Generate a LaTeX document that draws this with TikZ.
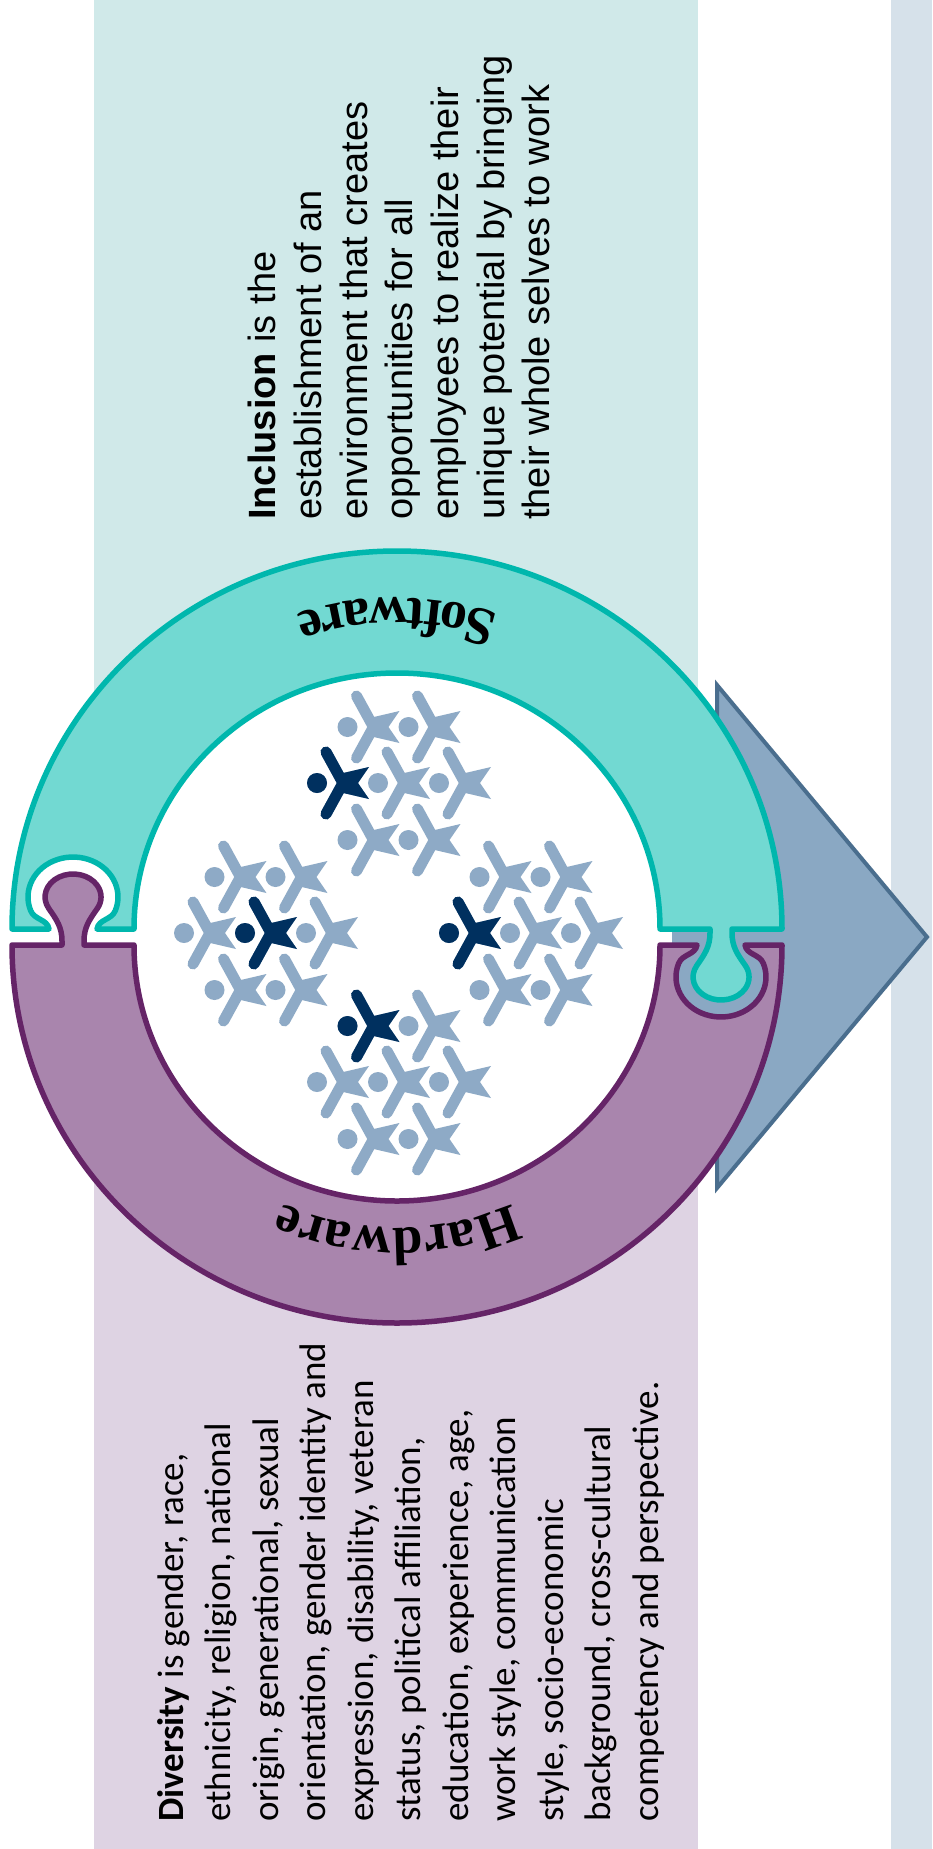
\documentclass[tikz,border=0pt]{standalone}
\usepackage{fontspec}
\setmainfont{Liberation Serif}
\newfontfamily\arialfont{Liberation Sans}
\newfontfamily\calibrifont{Carlito}
\usetikzlibrary{decorations.text}

\definecolor{inclbg}{HTML}{D0E9E9}
\definecolor{divbg}{HTML}{DED3E3}
\definecolor{stripbg}{HTML}{D6E1EA}
\definecolor{softfill}{HTML}{72D9D2}
\definecolor{softline}{HTML}{00B7AD}
\definecolor{hardfill}{HTML}{A985AD}
\definecolor{hardline}{HTML}{652467}
\definecolor{arrowfill}{HTML}{8AA8C3}
\definecolor{arrowline}{HTML}{4A6E8E}
\definecolor{figlight}{HTML}{8EAAC6}
\definecolor{figdark}{HTML}{00305F}

\newcommand\arcfont{\fontsize{54pt}{60pt}\selectfont\bfseries}

\tikzset{
	piece/.style  = {line width=5.5pt, line join=round},
	soft/.style   = {piece, fill=softfill, draw=softline},
	hard/.style   = {piece, fill=hardfill, draw=hardline},
	blurb/.style  = {rotate=90, anchor=north west, align=left, inner sep=0pt},
	person/.pic   = {
		\fill (0,0) circle[radius=10pt];
		\draw[line width=11pt, line cap=round, line join=round] (9,31) -- (26,0) -- (9,-31);
		\fill (22,9) -- (52,16) -- (41,0) -- (52,-16) -- (22,-9) -- cycle;
	}
}

\begin{document}
\begin{tikzpicture}[x=1pt, y=1pt]
	\useasboundingbox (0,0) rectangle (932,-1849);
	\fill[white] (0,0) rectangle (932,-1849);

	% background panels
	\fill[inclbg] (94,0) rectangle (698,-937);
	\fill[divbg] (94,-937) rectangle (698,-1849);
	\fill[stripbg] (891,0) rectangle (932,-1849);
	\fill[white] (397,-937) ellipse[x radius=392pt, y radius=386pt];

	% arrow behind the ring
	\draw[line width=4pt, fill=arrowfill, draw=arrowline, line join=miter]
		(717,-685) -- (927,-937) -- (717,-1188) -- cycle;
	\fill[arrowfill] (672,-926) rectangle (790,-950);
	\fill[arrowfill] (721,-977) ellipse[x radius=46pt, y radius=41pt];

	% hardware half (knob on the left, socket on the right)
	\draw[hard] (12,-945) -- (62,-945) -- (62,-941)
		to[out=90,in=-55] (48.8,-908.5)
		arc[start angle=210, end angle=-30, x radius=28pt, y radius=23pt]
		to[out=-125,in=90] (84,-941) -- (84,-945)
		-- (134,-945)
		arc[start angle=180, end angle=360, x radius=263pt, y radius=256pt]
		-- (697,-945)
		to[out=-100,in=68] (678.7,-963.3)
		arc[start angle=160, end angle=380, x radius=45pt, y radius=40pt]
		to[out=112,in=-80] (745,-945)
		-- (782,-945)
		arc[start angle=0, end angle=-180, x radius=385pt, y radius=378pt] -- cycle;

	% software half (socket on the left, knob on the right)
	\draw[soft] (12,-929) -- (49,-929)
		to[out=100,in=-68] (30.7,-910.7)
		arc[start angle=200, end angle=-20, x radius=45pt, y radius=40pt]
		to[out=-112,in=80] (97,-929)
		-- (134,-929)
		arc[start angle=180, end angle=0, x radius=263pt, y radius=256pt]
		-- (710,-929) -- (710,-933)
		to[out=-90,in=55] (696.8,-965.5)
		arc[start angle=150, end angle=390, x radius=28pt, y radius=23pt]
		to[out=125,in=-90] (732,-933) -- (732,-929)
		-- (782,-929)
		arc[start angle=0, end angle=180, x radius=385pt, y radius=378pt] -- cycle;

	% ring labels
	\path[decorate, decoration={text along path, text align=center,
			text={|\arcfont|Software}}]
		(397,-929) ++(55:331pt) arc[start angle=55, end angle=125, radius=331pt];
	\path[decorate, decoration={text along path, text align=center,
			text={|\arcfont|Hardware}}]
		(397,-945) ++(-55:283pt) arc[start angle=-55, end angle=-125, radius=283pt];

	% people: four groups of seven
	\foreach \cx/\cy in {378/-783, 245/-933, 510/-933, 378/-1082}
		\foreach \dx/\dy in {-61/0, 0/0, 61/0, -30.5/56, 30.5/56, -30.5/-57, 30.5/-57}
			\pic[color=figlight] at (\cx+\dx,\cy+\dy) {person};
	\foreach \x/\y in {317/-783, 245/-933, 449/-933, 347.5/-1026}
		\pic[color=figdark] at (\x,\y) {person};

	% definitions
	\node[blurb, font=\arialfont\fontsize{38pt}{45.7pt}\selectfont] (incl) at (248,-520)
		{\textbf{Inclusion} is the\\establishment of an\\environment that creates\\opportunities for all\\employees to realize their\\unique potential by bringing\\their whole selves to work};
	\node[blurb, font=\calibrifont\fontsize{37pt}{47.5pt}\selectfont] (div) at (157,-1822)
		{\textbf{Diversity} is gender, race,\\ethnicity, religion, national\\origin, generational, sexual\\orientation, gender identity and\\expression, disability, veteran\\status, political affiliation,\\education, experience, age,\\work style, communication\\style, socio-economic\\background, cross-cultural\\competency and perspective.};
\end{tikzpicture}
\end{document}
